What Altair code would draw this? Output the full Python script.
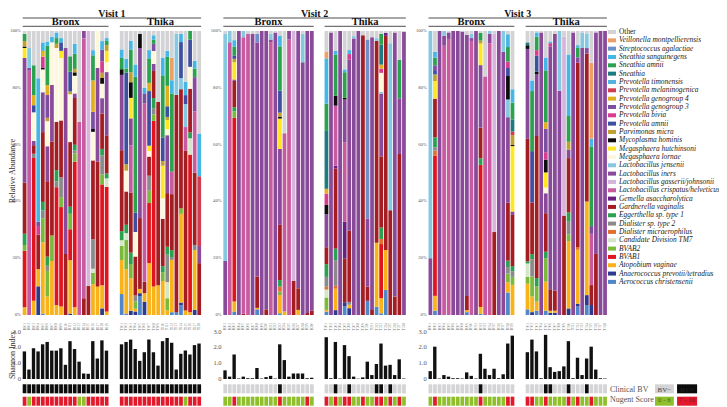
import altair as alt
import pandas as pd

TAXA = ["Other", "Veillonella montpellierensis", "Streptococcus agalactiae", "Sneathia sanguinegens",
        "Sneathia amnii", "Sneathia", "Prevotella timonensis", "Prevotella melaninogenica",
        "Prevotella genogroup 4", "Prevotella genogroup 3", "Prevotella bivia", "Prevotella amnii",
        "Parvimonas micra", "Mycoplasma hominis", "Megasphaera hutchinsoni", "Megasphaera lornae",
        "Lactobacillus jensenii", "Lactobacillus iners", "Lactobacillus gasserii/johnsonii",
        "Lactobacillus crispatus/helveticus", "Gemella asaccharolytica", "Gardnerella vaginalis",
        "Eggerthella sp. type 1", "Dialister sp. type 2", "Dialister micraerophilus",
        "Candidate Division TM7", "BVAB2", "BVAB1", "Atopobium vaginae",
        "Anaerococcus prevotii/tetradius", "Aerococcus christensenii"]
CODES = ["O", "VM", "SG", "SS", "SA", "SN", "PT", "PM", "G4", "G3", "PB", "PA", "PV", "MH", "MG", "ML",
         "LJ", "LI", "LG", "LC", "GE", "GV", "EG", "D2", "DM", "TM", "B2", "B1", "AT", "AN", "AE"]
COLORS = ["#d3d3d6", "#eda066", "#6f8fc9", "#45b6e6", "#2aa24e", "#1f7a80", "#55b4dc", "#d23c50",
          "#e0b020", "#7a4fa0", "#d63c90", "#3f4f9f", "#c0a030", "#0d0d0d", "#ffe620", "#fdf7dc",
          "#86c8e0", "#8a4a9a", "#d6b4dc", "#c85aa0", "#6a2080", "#a31d22", "#2aa050", "#8a8a8a",
          "#e07030", "#d5e5c8", "#7ab93c", "#e0141e", "#f9b218", "#2e3a8c", "#4f87c8"]

V1_BRONX = [
    dict(O=1, SA=2.5, PV=2, MH=.5, MG=3.5, LI=44, GV=18, EG=4, B2=2, B1=20, AT=2.7),
    dict(O=6, LJ=7, LI=1, LC=86),
    dict(O=12, SA=10.5, G4=3.5, PA=2.5, ML=10, LI=1.5, GV=3, D2=1.5, B1=50, AT=5),
    dict(O=16.5, SS=50, PB=3, G3=1.5, GV=12, AT=6, AN=10),
    dict(O=4, SS=3, PB=4, G4=2, MH=.5, ML=8, LI=14, GV=24.5, EG=3, D2=2.7, B2=8.5, AT=25, AE=.5),
    dict(O=3.7, SS=1.5, SA=13.8, G4=3.5, G3=8, PV=1.2, ML=8.8, LI=12.3, GV=26.5, EG=3.2, D2=1.8, B2=9, AT=6.5),
    dict(O=2, SS=2, ML=15, LI=20, GV=33, B2=9, AT=19),
    dict(O=.5, SA=2, SS=2, PV=1.5, ML=26, GV=17, EG=4, D2=2, B1=41.5, AT=3.5),
    dict(O=2.5, SS=1.5, PA=3, MG=2.5, ML=22, GV=20, D2=7, B2=3.5, B1=35, AT=3),
    dict(O=6, LI=72.5, GV=21.5),
    dict(O=9, SA=5.5, ML=17, PA=7, PV=1, GV=23, EG=2.5, B2=5.5, B1=11, AT=19, AN=.5),
    dict(O=4.5, SA=5.3, SS=3.5, PV=1.2, MH=1.2, ML=6.2, LI=1.6, GV=16.4, EG=2, D2=1, B2=3, B1=51, AT=2.7),
    dict(O=32, LC=68),
    dict(LI=2.6, LC=91.5, GV=5.9),
    dict(LG=89.8, GV=10.2),
    dict(O=6.7, SA=8.8, SS=1.8, G4=11, G3=6, MH=1, ML=10, GV=27.6, D2=10.3, TM=1.4, B2=4, AT=10.8),
    dict(ML=13, LI=33, GV=44, AT=10),
    dict(O=3.5, SS=3, PB=4, G3=4, PV=1.8, MH=2, ML=5, LI=5.3, GV=12.3, EG=2.3, D2=6.5, B2=3.5, B1=35, AT=8, AN=2.3),
    dict(O=2.5, SA=1.5, SS=1, PV=2, MG=4, ML=3.5, LI=22.3, GV=13.5, EG=1.7, TM=3, B1=44, AT=1.2),
]
V1_THIKA = [
    dict(O=6.5, SA=4, SS=3, MH=2, LI=26.6, GV=28.6, EG=3.2, TM=2, B2=5, AT=12, AE=7.4),
    dict(O=10, SA=1.5, SS=3.5, PA=33, PV=2.3, ML=7.5, GV=12, EG=3, TM=2.5, B2=10.5, AT=16, AE=.5),
    dict(O=3.5, SA=8, SS=3, LC=16.7, PV=3.5, MH=5.5, MG=7.2, LI=9.5, GV=21, EG=4, B2=5, AT=11.4, AN=1.5),
    dict(O=11.6, SA=47, SS=4.2, PA=6.7, ML=8.5, GV=13.5, D2=2, B2=2.5, AT=1, AN=1.2),
    dict(MH=5, O=1, LI=60, GV=25, AT=1.5, AN=1, AE=6.7),
    dict(O=20, SS=2, LC=63, G3=3.5, GV=4, AT=3, AN=4.7),
    dict(O=7, SS=3, SA=9, G4=3, PA=20, MG=2, ML=2, GV=7, D2=5.5, B2=4.5, B1=22, AT=19),
    dict(O=1.5, SA=1.5, SS=1.5, G3=2.5, ML=4.5, LI=2.5, GV=9.5, EG=3.7, D2=2, B2=2.3, B1=58, AT=10),
    dict(O=25, GV=64.5, AT=10.5),
    dict(O=9, SA=21, SS=6, PA=8, PV=1.6, MG=11, ML=7, GV=16, EG=2, B2=3, AT=11.5),
    dict(O=6.5, SS=2, SA=9.5, G4=6.7, PA=3.5, PV=1, MG=3, ML=2, LI=19, GV=17.6, EG=2.6, D2=9, TM=5.3, B2=4, AT=1.5),
    dict(O=9.6, VM=8, SS=4.7, SA=28, LC=8, GV=20, EG=2.5, D2=1, AT=18.7, AE=1),
    dict(O=1, LJ=21.5, GV=76.5, AE=1),
    dict(O=1, SS=3, PA=13, LJ=4, GV=43, B2=2, AT=32, AN=1, AE=3.5),
    dict(O=17, PA=3, SS=4.5, LC=8, LJ=7.7, GV=53.5, AT=1.5),
    dict(SA=3, PA=9.3, ML=7.5, GV=15, EG=2, TM=5.6, B1=54, AT=1),
    dict(O=10.5, SA=3, SS=2.7, LC=21.5, LI=12, GV=25.4, D2=1.8, AT=21, AN=1.8),
    dict(O=36, SS=15, PM=24.5, LI=6, GV=18.2),
]
V2_BRONX = [
    dict(O=1, LJ=80, LI=19),
    dict(LJ=4, LC=96),
    dict(O=3.2, SA=3, SS=2.3, PA=1.2, PV=1.2, MG=6, LI=.5, GV=9.2, EG=1.4, B2=2.3, B1=64, AT=3.5, AE=1.2),
    dict(LI=100),
    dict(LJ=2.2, LC=97.5, GV=.5),
    dict(O=1, LC=99),
    dict(O=1, LI=99),
    dict(O=1, SG=3, LI=82, GV=11, AT=.5, AE=2),
    dict(LI=100),
    dict(LI=98, GV=2),
    dict(O=1, LJ=2, LI=1, LC=96),
    dict(O=.5, LI=99.5),
    dict(O=1.6, SA=15.6, SS=3.8, PA=7.7, PV=1.4, MH=.7, MG=10.7, LI=26.7, GV=19.4, EG=2.3, DM=1.8, B2=1.2, AT=6.4, AE=.6),
    dict(O=36, LC=62.8, AT=1.2),
    dict(LI=3, LC=97),
    dict(LG=88, GV=12),
    dict(LI=90.6, GV=7.6, AT=1.8),
    dict(O=1, LJ=10, LI=89),
    dict(LI=99.3, GV=.7),
    dict(LI=98.5, GV=1.5),
]
V2_THIKA = [
    dict(O=7.3, VM=2.4, SA=9.7, SN=20.5, SS=16, PB=4, G4=1.7, MH=3.3, LI=11.7, GV=6, EG=4.5, D2=3.5, DM=1, TM=2.8, B2=4.4, AT=.6, AE=1.2),
    dict(O=.5, LI=99.5),
    dict(O=7, SA=14.4, SS=1.2, LC=21, MH=3.5, GE=1, GV=28, EG=4, D2=9, DM=1, AT=7.5, AN=1.7),
    dict(LI=100),
    dict(O=13.5, SA=9, SS=1, LC=28, MH=.6, LI=15, GE=13, GV=15.3, AN=1.5, AE=3),
    dict(O=6.7, SS=1.4, PB=2, LI=60, GV=25, D2=1, AT=1.2, AN=2.4),
    dict(O=1.8, LJ=.8, LI=97.4),
    dict(LI=100),
    dict(O=1.5, GV=98.5),
    dict(O=3, SG=63, LI=24, GV=5, AE=5),
    dict(O=2.2, LI=96, GV=1.8),
    dict(O=2.5, LJ=1, GV=71, AT=22.5, AE=2.9),
    dict(O=1, SA=3.8, SN=7, LJ=.6, LI=22, PB=1.5, G4=1.4, ML=6.7, GV=25, EG=4, DM=1.8, B1=19, AT=5.3, AE=.6),
    dict(O=.7, GE=1, GV=75, AT=14, AE=8.8),
    dict(O=4.3, LJ=59, GV=37),
    dict(O=.5, LI=93, GV=6.5),
    dict(O=10.2, SA=13.5, LI=19.6, GV=56.7),
    dict(O=.3, LI=99.7),
]
V3_BRONX = [
    dict(LJ=80, LI=20),
    dict(O=7.3, SA=2.7, SS=2, PA=1.2, PV=2.3, MG=6.2, G3=2, GV=13.5, EG=3.5, D2=1.2, DM=1.8, B1=49, AT=5.2, AE=1.5),
    dict(LI=100),
    dict(LJ=1.7, LI=3.5, LC=94.8),
    dict(O=.5, LI=2.3, LC=97.2),
    dict(LI=100),
    dict(LI=100),
    dict(O=.2, LI=99.8),
    dict(O=1.4, LI=91.9, GV=5, AT=.7, AE=1),
    dict(O=1, LJ=1.5, LI=1, LC=96.5),
    dict(LI=100),
    dict(O=.6, SA=2.8, PV=1, MG=7.6, LI=22, GV=10.8, EG=2.3, B1=50, AT=2.4, AE=.4),
    dict(O=16, LC=84),
    dict(LJ=1, LI=3.3, LC=95.7),
    dict(O=1, LG=70, GV=29.3),
    dict(LI=100),
    dict(LJ=7.3, LI=92.7),
    dict(O=1, SA=4.5, SS=4, PB=2, PA=2.5, MH=7.3, LJ=5.5, LI=26.6, GV=18, EG=2, D2=2, B2=2.7, AT=3.2, AE=7),
    dict(O=20.5, SA=5.9, SN=4.3, SS=4.7, PM=1.2, PV=3.5, MH=.4, MG=23, LI=1.2, GV=18, EG=1.8, D2=2, B2=2.8, AT=10.6),
]
V3_THIKA = [
    dict(O=4, SN=1, MH=1.3, LI=31.6, GV=43, EG=.8, TM=4.7, B2=2.4, AT=9, AE=2),
    dict(O=17.3, SS=3.7, SA=21, PA=18, GV=18, EG=1.8, D2=6, B2=7, AT=5.5, AN=1),
    dict(O=.5, SS=1.5, SA=4.7, PB=2, PA=5.5, MH=1, LI=21.6, GV=49.7, EG=3, B2=5.3, AT=3.2, AE=1.5),
    dict(O=.5, LI=99.5),
    dict(O=9.3, SS=4.5, SA=18.2, G3=8.2, PB=2.6, G4=2.3, MH=4.5, MG=5.3, ML=2, LI=7, GV=13.5, EG=2.3, B2=8.2, AT=10.2, AE=1.5),
    dict(O=3.7, SS=.6, PB=1.2, LI=85.7, GV=7.6, AT=.7, AN=.8),
    dict(O=1, LI=90, GV=7, AT=.7, AN=.8),
    dict(LJ=21, LI=79),
    dict(O=2, LG=63, GV=35),
    dict(O=8.2, SS=21.5, SA=9, PV=2.7, LI=3, GV=19, EG=3, D2=4.7, B2=2.3, AT=23.5, AN=2.3),
    dict(O=.5, LI=99.5),
    dict(O=5, SA=3.5, SS=.8, LI=1.9, GV=65, DM=1, AT=19, AN=1, AE=3),
    dict(O=.5, LJ=5.5, LI=94),
    dict(O=1, LJ=5, LI=2, GV=52, AT=33, AN=3.5, AE=3.5),
    dict(O=11.2, VM=26.6, SA=28, SS=2.7, LC=18, G3=2.7, GV=7, AN=3.5),
    dict(O=.5, LI=78, GV=21.5),
    dict(LI=100),
    dict(LI=100),
]

SHANNON = [
    [1.75, .6, 1.95, 1.75, 2.2, 2.35, 1.8, 1.8, 1.95, .9, 2.4, 1.9, 1.1, .35, .33, 2.4, 1.3, 2.45, 1.8],
    [2.2, 2.35, 2.5, 1.9, 1.15, 1.7, 2.5, 1.7, .85, 2.4, 2.6, 2.3, .6, 1.6, 1.8, 1.55, 2.15, 2.25],
    [.55, .15, 1.55, .03, .15, .05, .05, .7, .03, .12, .2, .03, 2.2, 1.2, .15, .35, .35, .35, .05, .08],
    [2.65, .05, 2.35, .03, 2.15, 1.45, .15, .02, .1, 1.1, .25, .95, 2.25, .85, .9, .25, 1.25, .03],
    [.5, 2.05, .03, .25, .15, .05, .05, .03, .42, .2, .03, 1.6, .65, .25, .65, .05, .3, 2.25, 2.75],
    [1.7, 2.5, 1.75, .05, 2.8, .75, .45, .5, .8, 2.4, .05, 1.35, .25, 1.3, 2.05, .6, .05, .03],
]
# indices of the samples that differ from the panel's usual state
CLINICAL_POSITIVE = [list(range(19)), list(range(18)), [12], [2, 5, 11, 12, 14], [11], [4, 5, 9, 13]]
NUGENT_HIGH = [
    [i for i in range(19) if i not in (1, 12, 13)],
    [i for i in range(18) if i != 14],
    [2, 12, 18],
    [0, 2, 4, 5, 8, 11, 12, 14, 16],
    [1, 11, 17, 18],
    [0, 1, 4, 9, 11, 14],
]
PANELS = [V1_BRONX, V1_THIKA, V2_BRONX, V2_THIKA, V3_BRONX, V3_THIKA]
SITES = ["Bronx", "Thika"] * 3
SITE_CODES = ["B", "T"] * 3
VISITS = ["Visit 1", "Visit 2", "Visit 3"]
PANEL_START = [0, 21.3, 44, 66.2, 89, 110.3]
PCT_TICKS = [0, .2, .4, .6, .8, 1]
SHANNON_TICKS = [0, 1, 2, 3]
LEFT_LABEL_SLOT = [-.4, 43.6, 88.6]

BAR_W = .82
SH_W = .74
X_SCALE = alt.Scale(domain=[-3.224, 152.7], nice=False, zero=False)
ALL_X = alt.X("x0:Q", scale=X_SCALE, axis=None)
FONT = "Liberation Serif"
GREY_TXT = "#555555"

seg, sh, heat, names = [], [], [], []
for p, panel in enumerate(PANELS):
    for i, bar in enumerate(panel):
        x0 = PANEL_START[p] + i
        total = sum(bar.values())
        acc = 0.0
        for code in reversed(CODES):
            if code in bar:
                v = bar[code] / total
                seg.append(dict(x0=x0, x1=x0 + BAR_W, y0=acc, y1=acc + v,
                                taxon=TAXA[CODES.index(code)]))
                acc += v
        sh.append(dict(x0=x0, x1=x0 + SH_W, v=SHANNON[p][i], z=0))
        heat.append(dict(x0=x0, x1=x0 + BAR_W, row="Clinical BV",
                         col="#0c0c0c" if i in CLINICAL_POSITIVE[p] else "#d4d4d6"))
        heat.append(dict(x0=x0, x1=x0 + BAR_W, row="Nugent Score",
                         col="#e2192b" if i in NUGENT_HIGH[p] else "#8fc02c"))
        names.append(dict(x0=x0 + BAR_W / 2, t=f"{SITE_CODES[p]}{(p // 2) + 1}{i + 1:02d}"))

seg = pd.DataFrame(seg); sh = pd.DataFrame(sh); heat = pd.DataFrame(heat); names = pd.DataFrame(names)

ROW_DOMAIN = ["Clinical BV", "Nugent Score"]
ROW_SCALE = alt.Scale(domain=ROW_DOMAIN, range=[376.3, 397.7], paddingInner=.27, paddingOuter=0)
STACK_SCALE = alt.Scale(domain=[0, 1], range=[307, 23], nice=False)
SH_SCALE = alt.Scale(domain=[0, 3], range=[371, 323.7], nice=False)

stack = alt.Chart(seg).mark_rect().encode(
    x=ALL_X, x2="x1:Q",
    y=alt.Y("y0:Q", scale=STACK_SCALE, axis=None), y2="y1:Q",
    color=alt.Color("taxon:N", scale=alt.Scale(domain=TAXA, range=COLORS), legend=alt.Legend(
        orient="none", legendX=600, legendY=20, title=None,
        symbolType="M-1,-0.5H1V0.5H-1Z", symbolSize=64, symbolStrokeWidth=0, symbolLimit=40,
        labelFont=FONT, labelFontSize=7.4, labelColor="#222222", labelLimit=200, labelOffset=3,
        labelFontStyle={"expr": "datum.label == 'Other' ? 'normal' : 'italic'"},
        rowPadding=0.33, padding=0, values=TAXA)),
)
pct_df = pd.DataFrame([dict(x0=s, v=v, t=f"{round(v * 100)}%") for s in LEFT_LABEL_SLOT for v in PCT_TICKS])
pct_lab = alt.Chart(pct_df).mark_text(font=FONT, fontSize=4.6, align="right", baseline="middle", color=GREY_TXT).encode(
    x=ALL_X, y=alt.Y("v:Q", scale=STACK_SCALE, axis=None), text="t:N")
name_lab = alt.Chart(names).mark_text(font=FONT, fontSize=3.4, angle=270, align="right", baseline="middle", color="#777777").encode(
    x=ALL_X, y=alt.value(315), text="t:N")
sh_bars = alt.Chart(sh).mark_rect(color="#111111").encode(
    x=ALL_X, x2="x1:Q", y=alt.Y("v:Q", scale=SH_SCALE, axis=None), y2="z:Q")
sh_df = pd.DataFrame([dict(x0=s, v=v, t=("0" if v == 0 else f"{v:.1f}")) for s in LEFT_LABEL_SLOT for v in SHANNON_TICKS])
sh_lab = alt.Chart(sh_df).mark_text(font=FONT, fontSize=6.5, align="right", baseline="middle", color=GREY_TXT).encode(
    x=ALL_X, y=alt.Y("v:Q", scale=SH_SCALE, axis=None), text="t:N")
heat_rows = alt.Chart(heat).mark_rect().encode(
    x=ALL_X, x2="x1:Q", y=alt.Y("row:N", scale=ROW_SCALE, axis=None),
    color=alt.Color("col:N", scale=None))

# swatches at lower right
key = pd.DataFrame([
    dict(x0=138.66, x1=142.8, row="Clinical BV", col="#d4d4d6", t="BV\u2212", tc="#444444"),
    dict(x0=143.5, x1=147.9, row="Clinical BV", col="#0c0c0c", t="BV+", tc="#222222"),
    dict(x0=138.66, x1=142.8, row="Nugent Score", col="#8fc02c", t="0 - 6", tc="#4a6a10"),
    dict(x0=143.5, x1=147.9, row="Nugent Score", col="#e2192b", t="7 - 10", tc="#8a1020"),
])
key["xm"] = (key.x0 + key.x1) / 2
key_rect = alt.Chart(key).mark_rect().encode(
    x=ALL_X, x2="x1:Q", y=alt.Y("row:N", scale=ROW_SCALE, axis=None), color=alt.Color("col:N", scale=None))
key_txt = alt.Chart(key).mark_text(font=FONT, fontSize=7).encode(
    x=alt.X("xm:Q", scale=X_SCALE, axis=None), y=alt.Y("row:N", scale=ROW_SCALE, axis=None),
    text="t:N", color=alt.Color("tc:N", scale=None))
row_txt = alt.Chart(pd.DataFrame(dict(x0=[128.8, 128.8], row=ROW_DOMAIN))).mark_text(
    font=FONT, fontSize=8, align="left", color=GREY_TXT).encode(
    x=ALL_X, y=alt.Y("row:N", scale=ROW_SCALE, axis=None), text="row:N")

# headers
site_rows = [dict(x0=PANEL_START[p], x1=PANEL_START[p] + len(PANELS[p]) - (1 - BAR_W), xm=PANEL_START[p] + (len(PANELS[p]) - .18) / 2, t=SITES[p]) for p in range(6)]
visit_rows = [dict(x0=PANEL_START[2 * v], x1=PANEL_START[2 * v + 1] + len(PANELS[2 * v + 1]) - .18,
                   xm=(PANEL_START[2 * v] + PANEL_START[2 * v + 1] + len(PANELS[2 * v + 1]) - .18) / 2, t=VISITS[v]) for v in range(3)]
site_df = pd.DataFrame(site_rows); visit_df = pd.DataFrame(visit_rows)
XM = alt.X("xm:Q", scale=X_SCALE, axis=None)
site_txt = alt.Chart(site_df).mark_text(font=FONT, fontSize=10.5, fontWeight="bold", baseline="alphabetic", color="#111111").encode(
    x=XM, y=alt.value(17.2), text="t:N")
visit_txt = alt.Chart(visit_df).mark_text(font=FONT, fontSize=10, fontWeight="bold", baseline="alphabetic", color="#111111").encode(
    x=XM, y=alt.value(8.9), text="t:N")
site_rule = alt.Chart(site_df).mark_rule(color="#222222", strokeWidth=.8).encode(x=ALL_X, x2="x1:Q", y=alt.value(18.3))
visit_rule = alt.Chart(visit_df).mark_rule(color="#222222", strokeWidth=.8).encode(x=ALL_X, x2="x1:Q", y=alt.value(10))

ytitle = alt.Chart(pd.DataFrame(dict(x0=[-2.2, -2.2], t=["Relative Abundance", "Shannon Index"], ym=[163, 347]))).mark_text(
    font=FONT, fontSize=8, angle=270, align="center", baseline="middle", color="#333333").encode(
    x=ALL_X, y=alt.Y("ym:Q", scale=None, axis=None), text="t:N")

chart = alt.layer(stack, pct_lab, name_lab, sh_bars, sh_lab, heat_rows, key_rect, key_txt, row_txt,
                  site_txt, visit_txt, site_rule, visit_rule, ytitle).resolve_scale(
    y="independent", color="independent"
).properties(width=711, height=399, padding=0, autosize="none", background="white").configure_view(stroke=None)

chart.save("out.html", embed_options={"renderer": "svg", "actions": False})
